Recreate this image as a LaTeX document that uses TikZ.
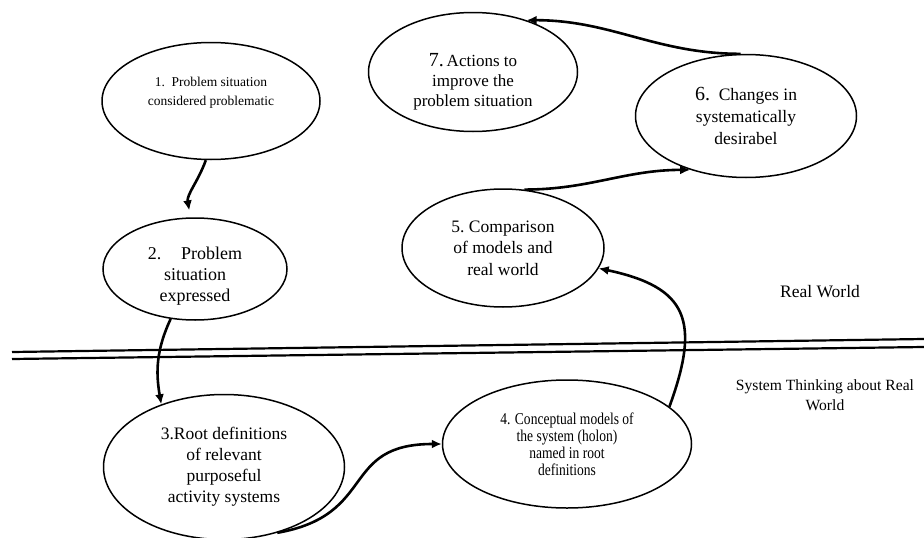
\documentclass[tikz,border=0pt]{standalone}
\usepackage{fontspec}
\setmainfont{Liberation Serif}
\newfontfamily\narrowserif[FakeStretch=0.82]{Liberation Serif}
\usetikzlibrary{arrows.meta, shapes.geometric}
\newcommand{\fs}[2]{\fontsize{#1}{#2}\selectfont}
\tikzset{
  stage/.style={draw, ellipse, line width=1.5pt, inner sep=0pt, align=center},
  arrow/.style={-{Latex[length=10pt, width=9pt]}, line width=2.6pt},
  divider/.style={line width=2.2pt},
  note/.style={align=center}
}

\begin{document}
\begin{tikzpicture}[x=1pt, y=-1pt]
    \useasboundingbox (0,0) rectangle (924,538);

    % real world stages
    \node[stage, minimum width=218pt, minimum height=117pt, text depth=19pt, font=\fs{13.5}{19}] (s1) at (211,101) {1.\ \ Problem situation\\considered problematic};
    \node[stage, minimum width=184pt, minimum height=102pt, text height=68pt, font=\fs{18}{21}] (s2) at (195,269) {2.\hspace{1.1em}Problem\\situation\\expressed};
    \node[stage, minimum width=202pt, minimum height=118pt, font=\fs{17.5}{21.5}] (s5) at (503,248) {5.\ Comparison\\of models and\\real world};
    \node[stage, minimum width=221pt, minimum height=123pt, font=\fs{17.5}{22}] (s6) at (746,116) {{\fs{20}{22}6.}\ \ Changes in\\systematically\\desirabel};
    \node[stage, minimum width=209pt, minimum height=119pt, text height=72pt, font=\fs{17}{20}] (s7) at (473,72) {{\fs{20}{22}7.}\,Actions to\\improve the\\problem situation};

    % systems thinking stages
    \node[stage, minimum width=241pt, minimum height=145pt, font=\fs{17.5}{21}] (s3) at (224,467) {3.Root definitions\\of relevant\\purposeful\\activity systems};
    \node[stage, minimum width=249pt, minimum height=128pt, font=\narrowserif\fs{16.5}{17}] (s4) at (567,444) {4. Conceptual models of\\the system (holon)\\named in root\\definitions};

    % border between the two worlds
    \draw[divider] (12,352) -- (924,339);
    \draw[divider] (12,359) -- (924,347);

    \node[note, font=\fs{17.5}{20}] (real) at (820,292) {Real World};
    \node[note, font=\fs{15.6}{20}] (thinking) at (825,395) {System Thinking about Real\\World};

    \draw[arrow, shorten >=7pt] (s1.265) to[out=-110, in=100] (s2.95);
    \draw[arrow] (s2.244) to[out=-115, in=100] (s3.135);
    \draw[arrow] (s3.309) to[out=10, in=180, looseness=1.4] (s4.west);
    \draw[arrow] (s4.20) to[out=70, in=-12, looseness=1.5] (s5.-12);
    \draw[arrow] (s5.70) to[out=0, in=180] (s6.224);
    \draw[arrow] (s6.95) to[out=180, in=0] (s7.44);
\end{tikzpicture}
\end{document}
